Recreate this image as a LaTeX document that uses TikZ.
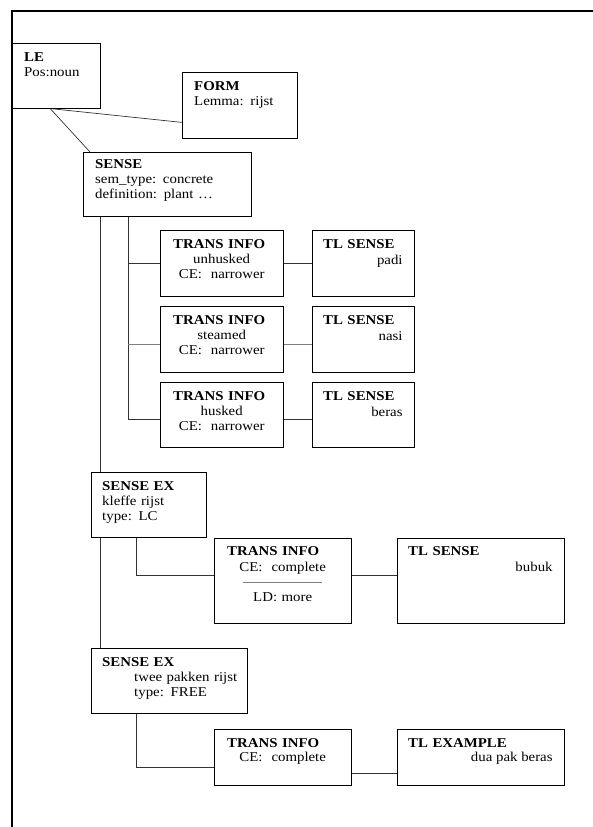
\documentclass[tikz,border=0pt]{standalone}
\usepackage{fontspec}
\setmainfont{Liberation Serif}[FakeStretch=1.1]

\begin{document}
\begin{tikzpicture}[x=1pt, y=-1pt,
  box/.style 2 args={draw, line width=0.8pt, anchor=north west, inner sep=0pt,
    minimum width=#1, minimum height=#2},
  txt/.style={inner sep=0pt, anchor=base west, align=left, text width=#1},
  mid/.style={inner sep=0pt, anchor=base west, align=center, text width=#1},
  val/.style={inner sep=0pt, anchor=base east},
  link/.style={draw=black!80, line width=0.7pt},
  every node/.style={font=\fontsize{13.5pt}{15.3pt}\selectfont}]
  \useasboundingbox (0,0) rectangle (593,827);
  \draw[line width=1.6pt] (593,11) -| (12,827);

  % boxes
  \node[box={88}{65}] (le) at (12,43) {};
  \node[box={115}{66}] (form) at (182,72) {};
  \node[box={168}{64}] (sense) at (83,152) {};
  \node[box={123}{66}] (ti1) at (160,230) {};
  \node[box={102}{66}] (tl1) at (312,230) {};
  \node[box={123}{66}] (ti2) at (160,306) {};
  \node[box={102}{66}] (tl2) at (312,306) {};
  \node[box={123}{65}] (ti3) at (160,382) {};
  \node[box={102}{65}] (tl3) at (312,382) {};
  \node[box={115}{65}] (sex1) at (91,472) {};
  \node[box={137}{85}] (ti4) at (214,538) {};
  \node[box={167}{85}] (tl4) at (397,538) {};
  \node[box={156}{65}] (sex2) at (91,648) {};
  \node[box={137}{56}] (ti5) at (214,729) {};
  \node[box={167}{56}] (tl5) at (397,729) {};

  % texts
  \node[txt=70] (le-t) at ([xshift=12pt,yshift=-18pt]le.north west) {\textbf{LE}\\Pos:noun};
  \node[txt=100] (form-t) at ([xshift=12pt,yshift=-18pt]form.north west) {\textbf{FORM}\\Lemma: rijst};
  \node[txt=150] (sense-t) at ([xshift=12pt,yshift=-16pt]sense.north west)
    {\textbf{SENSE}\\sem\_type: concrete\\definition: plant …};

  \node[txt=110] (ti1-t) at ([xshift=13pt,yshift=-18pt]ti1.north west) {\textbf{TRANS INFO}};
  \node[mid=123] (ti1-b) at ([yshift=-33.3pt]ti1.north west) {unhusked\\CE:~~narrower};
  \node[txt=90] (tl1-t) at ([xshift=11pt,yshift=-18pt]tl1.north west) {\textbf{TL SENSE}};
  \node[val] (tl1-v) at ([xshift=-12pt,yshift=-34pt]tl1.north east) {padi};

  \node[txt=110] (ti2-t) at ([xshift=13pt,yshift=-18pt]ti2.north west) {\textbf{TRANS INFO}};
  \node[mid=123] (ti2-b) at ([yshift=-33.3pt]ti2.north west) {steamed\\CE:~~narrower};
  \node[txt=90] (tl2-t) at ([xshift=11pt,yshift=-18pt]tl2.north west) {\textbf{TL SENSE}};
  \node[val] (tl2-v) at ([xshift=-12pt,yshift=-34pt]tl2.north east) {nasi};

  \node[txt=110] (ti3-t) at ([xshift=13pt,yshift=-18pt]ti3.north west) {\textbf{TRANS INFO}};
  \node[mid=123] (ti3-b) at ([yshift=-33.3pt]ti3.north west) {husked\\CE:~~narrower};
  \node[txt=90] (tl3-t) at ([xshift=11pt,yshift=-18pt]tl3.north west) {\textbf{TL SENSE}};
  \node[val] (tl3-v) at ([xshift=-12pt,yshift=-34pt]tl3.north east) {beras};

  \node[txt=104] (sex1-t) at ([xshift=11pt,yshift=-18pt]sex1.north west)
    {\textbf{SENSE EX}\\kleffe rijst\\type: LC};
  \node[txt=120] (ti4-t) at ([xshift=13pt,yshift=-17pt]ti4.north west) {\textbf{TRANS INFO}};
  \node[mid=137] (ti4-b) at ([yshift=-33pt]ti4.north west)
    {CE:~~complete\\\textcolor{gray}{\rule[3.5pt]{79pt}{0.7pt}}\\LD: more};
  \node[txt=150] (tl4-t) at ([xshift=11pt,yshift=-17pt]tl4.north west) {\textbf{TL SENSE}};
  \node[val] (tl4-v) at ([xshift=-12pt,yshift=-33pt]tl4.north east) {bubuk};

  \node[txt=145] (sex2-t) at ([xshift=11pt,yshift=-18pt]sex2.north west)
    {\textbf{SENSE EX}\\\hspace*{32pt}twee pakken rijst\\\hspace*{32pt}type: FREE};
  \node[txt=120] (ti5-t) at ([xshift=13pt,yshift=-18pt]ti5.north west) {\textbf{TRANS INFO}};
  \node[mid=137] (ti5-b) at ([yshift=-32pt]ti5.north west) {CE:~~complete};
  \node[txt=150] (tl5-t) at ([xshift=11pt,yshift=-18pt]tl5.north west) {\textbf{TL EXAMPLE}};
  \node[val] (tl5-v) at ([xshift=-12pt,yshift=-32pt]tl5.north east) {dua pak beras};

  % connectors
  \coordinate (trunk) at ([xshift=17pt]sense.south west);
  \coordinate (fork) at ([xshift=45pt]sense.south west);
  \coordinate (in2) at ([yshift=-5pt]ti2.west);
  \coordinate (in3) at ([yshift=-4.5pt]ti3.west);
  \coordinate (sx1) at ([xshift=45pt]sex1.south west);
  \coordinate (in4) at ([yshift=5.5pt]ti4.west);
  \coordinate (sx2) at ([xshift=45pt]sex2.south west);
  \coordinate (in5) at ([yshift=-10pt]ti5.west);
  \coordinate (out5) at ([yshift=-16pt]ti5.east);

  \draw[link] ([xshift=-4pt]le.south) -- ([yshift=-17pt]form.west);
  \draw[link] ([xshift=-6pt]le.south) -- ([xshift=7pt]sense.north west);
  \draw[link] (trunk) -- (trunk |- sex1.north);
  \draw[link] (trunk |- sex1.south) -- (trunk |- sex2.north);

  \draw[link] (fork) |- (in3);
  \draw[link] (fork |- ti1.west) -- (ti1.west);
  \draw[link, draw=gray] (fork |- in2) -- (in2);
  \draw[link] (ti1.east) -- (tl1.west);
  \draw[link, draw=gray] (ti2.east |- in2) -- (tl2.west |- in2);
  \draw[link] (ti3.east |- in3) -- (tl3.west |- in3);

  \draw[link] (sx1) |- (in4);
  \draw[link] (ti4.east |- in4) -- (tl4.west |- in4);
  \draw[link] (sx2) |- (in5);
  \draw[link] (out5) -- (tl5.west |- out5);
\end{tikzpicture}
\end{document}
